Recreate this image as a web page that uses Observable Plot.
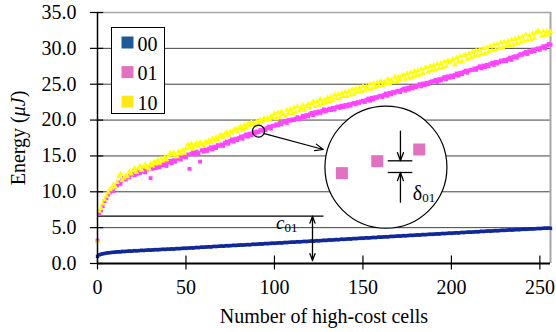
<!DOCTYPE html>
<html><head><meta charset="utf-8">
<script src="https://cdn.jsdelivr.net/npm/d3@7"></script>
<script src="https://cdn.jsdelivr.net/npm/@observablehq/plot@0.6"></script>
<style>body{margin:0;background:#fff} svg text{font-family:'Liberation Serif','Times New Roman',serif}</style>
</head><body><div id="chart"></div>
<script>
// Energy (μJ) per number of high-cost cells (index = number of cells, 0..256)
const s00 = [
1.0,1.2,1.3,1.35,1.4,1.45,1.5,1.5,1.55,1.55,
1.6,1.6,1.65,1.6,1.7,1.65,1.7,1.7,1.75,1.7,
1.75,1.8,1.75,1.8,1.8,1.85,1.8,1.85,1.85,1.9,
1.85,1.9,1.9,1.95,1.9,1.95,1.95,2.0,1.95,2.0,
2.0,2.0,2.05,2.0,2.05,2.1,2.05,2.1,2.1,2.15,
2.1,2.15,2.15,2.2,2.15,2.2,2.25,2.2,2.25,2.3,
2.25,2.3,2.3,2.35,2.3,2.35,2.4,2.35,2.4,2.4,
2.45,2.4,2.45,2.5,2.45,2.5,2.5,2.55,2.5,2.55,
2.55,2.6,2.55,2.6,2.6,2.65,2.6,2.65,2.7,2.65,
2.7,2.7,2.75,2.7,2.75,2.8,2.75,2.8,2.8,2.85,
2.8,2.85,2.85,2.9,2.85,2.9,2.95,2.9,2.95,2.95,
3.0,2.95,3.0,3.05,3.0,3.05,3.05,3.1,3.05,3.1,
3.1,3.15,3.1,3.15,3.2,3.15,3.2,3.2,3.25,3.2,
3.25,3.3,3.25,3.3,3.3,3.35,3.3,3.35,3.4,3.35,
3.4,3.4,3.45,3.4,3.45,3.5,3.45,3.5,3.5,3.55,
3.5,3.55,3.6,3.55,3.6,3.6,3.65,3.6,3.65,3.7,
3.65,3.7,3.7,3.75,3.7,3.75,3.8,3.75,3.8,3.8,
3.85,3.8,3.85,3.9,3.85,3.9,3.9,3.95,3.9,3.95,
3.95,4.0,3.95,4.0,4.05,4.0,4.05,4.05,4.1,4.05,
4.1,4.1,4.15,4.1,4.15,4.2,4.15,4.2,4.2,4.25,
4.2,4.25,4.25,4.3,4.25,4.3,4.35,4.3,4.35,4.35,
4.4,4.35,4.4,4.4,4.45,4.4,4.45,4.5,4.45,4.5,
4.5,4.55,4.5,4.55,4.55,4.6,4.55,4.6,4.6,4.65,
4.6,4.65,4.65,4.7,4.65,4.7,4.7,4.75,4.7,4.75,
4.75,4.8,4.75,4.8,4.8,4.85,4.8,4.85,4.85,4.9,
4.85,4.9,4.9,4.95,4.9,4.95,4.9];
const s01 = [
3.2,6.9,7.4,8.0,8.7,9.1,9.6,9.9,10.3,10.1,
10.7,10.9,11.3,11.1,11.6,11.9,11.7,12.2,12.0,12.4,
12.6,12.3,12.5,12.9,12.6,12.8,13.0,12.7,13.1,13.3,
11.9,13.2,13.5,13.3,13.6,13.4,13.8,13.7,14.0,13.6,
14.1,14.3,14.0,14.4,14.2,14.6,14.8,14.5,14.9,15.1,
14.8,15.2,13.2,15.3,15.5,15.2,15.6,15.4,14.2,15.8,
15.6,15.9,15.7,16.0,16.2,15.9,16.3,16.1,16.5,16.4,
16.6,16.4,16.8,17.0,16.7,17.1,17.3,17.0,17.4,17.2,
17.5,17.7,17.4,17.8,18.0,17.7,18.1,17.9,18.3,18.1,
18.4,18.3,18.6,18.5,18.8,18.6,18.9,19.1,18.8,19.2,
19.2,19.4,19.3,19.6,19.4,19.7,19.9,19.6,20.0,19.9,
20.1,20.0,20.2,20.4,20.1,20.3,20.6,20.4,20.7,20.5,
20.8,21.0,20.7,21.1,20.9,21.2,21.0,21.3,21.5,21.2,
21.4,21.6,21.4,21.7,21.5,21.8,21.9,21.7,22.0,21.8,
22.1,21.9,22.2,22.0,22.3,22.4,22.2,22.5,22.4,22.6,
22.7,22.5,22.8,23.0,22.7,23.1,22.9,23.2,23.1,23.3,
23.4,23.2,23.5,23.7,23.4,23.8,23.6,23.9,23.8,24.0,
24.1,23.9,24.2,24.4,24.1,24.5,24.3,24.6,24.4,24.7,
24.6,24.8,25.0,24.7,25.1,24.9,25.2,25.0,25.3,25.4,
25.4,25.6,25.3,25.7,25.5,25.8,26.0,25.7,26.1,25.9,
26.2,26.0,26.3,26.5,26.2,26.6,26.4,26.7,26.9,26.6,
26.9,27.0,27.0,27.2,27.0,27.3,27.5,27.2,27.6,27.4,
27.7,27.5,27.8,28.0,27.7,28.1,27.9,28.1,28.3,28.2,
28.4,28.2,28.5,28.7,28.4,28.8,28.9,28.7,29.0,29.2,
29.1,29.3,29.5,29.2,29.6,29.5,29.8,29.6,29.9,30.0,
29.8,30.1,30.3,30.0,30.4,30.6,30.5];
const s10 = [
3.0,7.3,7.7,8.3,8.9,9.4,9.9,10.3,10.5,11.0,
10.7,11.3,12.1,12.5,11.6,11.9,12.3,12.1,12.8,12.5,
12.9,13.3,12.7,13.2,13.6,13.0,13.5,13.8,13.4,13.2,
13.9,13.6,14.2,13.9,14.4,14.0,14.6,14.3,14.8,14.5,
15.0,15.4,15.2,15.5,15.1,14.9,15.6,15.3,15.8,15.4,
16.0,16.6,16.2,16.7,16.0,16.5,16.8,16.3,16.9,16.6,
16.4,17.0,16.8,17.2,16.9,17.4,17.1,17.6,17.3,17.8,
17.9,17.6,18.1,18.3,17.9,18.4,18.2,18.6,18.8,18.4,
18.9,19.1,18.7,19.3,19.0,19.5,19.3,19.7,19.4,19.2,
19.8,19.6,20.0,19.7,20.2,20.0,20.3,20.1,20.5,20.3,
20.9,20.2,21.0,20.4,21.2,20.8,20.5,21.4,20.9,21.5,
20.9,21.7,21.1,21.9,21.3,21.6,22.1,21.4,21.9,22.2,
21.7,22.3,22.6,21.9,22.5,22.1,22.9,22.3,22.8,22.4,
23.1,22.6,23.2,22.7,23.5,23.0,23.6,23.0,23.7,23.3,
23.9,23.3,24.0,23.5,24.3,23.6,24.4,23.9,24.5,24.0,
24.7,24.1,24.6,24.3,25.0,24.4,25.1,24.6,25.2,24.7,
25.4,24.8,25.3,25.1,25.7,25.1,25.6,25.3,26.0,25.4,
26.0,25.6,26.2,26.3,25.7,26.5,25.9,26.6,26.0,26.8,
26.2,26.9,26.3,27.1,26.5,27.2,27.3,26.7,27.5,26.9,
27.6,27.0,27.8,27.2,27.9,27.3,28.1,27.5,28.3,28.0,
28.3,28.5,27.7,28.7,28.1,28.9,28.2,29.0,29.1,28.5,
29.3,28.7,29.5,28.9,29.7,29.0,29.8,29.2,30.0,29.3,
30.1,29.5,30.3,29.7,30.5,29.8,30.6,30.0,30.8,30.1,
30.9,30.3,31.0,30.4,31.2,30.5,31.3,30.7,31.5,30.8,
31.6,31.0,31.9,31.1,31.8,31.2,32.1,31.4,32.2,32.5,
32.2,31.7,32.4,31.8,32.4,31.9,32.3];

const seriesNames = ["00", "01", "10"];
const xTicks = [0, 50, 100, 150, 200, 250];
const yTicks = [0, 5, 10, 15, 20, 25, 30, 35];
const xLabel = "Number of high-cost cells";
const yLabel = "Energy (μJ)";

// annotation values (data units)
const c01Level = 6.6;
const zoomSpot = {x: 91, y: 18.45};
const zoomCenter = {x: 163, y: 13.43};
const zoomPoints = [{x: 138.1, y: 12.6}, {x: 158.1, y: 14.27}, {x: 181.8, y: 15.9}];
const deltaLines = [14.32, 12.69];

const dataColors = {"00": "#10289a", "01": "#ff44ff", "10": "#ffff00"};
const legendColors = {"00": "#1b5a97", "01": "#e271c1", "10": "#ffe814"};

const rows = (arr) => arr.map((v, i) => ({x: i, y: v}));
const F = "Liberation Serif, Times New Roman, serif";

const legendMarks = seriesNames.flatMap((name, i) => [
  Plot.dot([name], {frameAnchor: "top-left", dx: 30, dy: 30 + i * 29.6, symbol: "square", r: 6.77, fill: legendColors[name], stroke: "none"}),
  Plot.text([name], {frameAnchor: "top-left", dx: 40, dy: 31.6 + i * 29.6, text: d => d, textAnchor: "start", lineAnchor: "middle", fontSize: 20, fontFamily: F, fill: "black"})
]);

const svg = Plot.plot({
  width: 556, height: 332,
  marginLeft: 97, marginRight: 6, marginTop: 12, marginBottom: 69,
  x: {domain: [0, 256]},
  y: {domain: [0, 35]},
  style: {fontFamily: F, fontSize: "20px", color: "black", background: "white"},
  marks: [
    Plot.ruleY(yTicks.filter(d => d > 0 && d < 35), {stroke: "#404040", strokeWidth: 1}),
    Plot.ruleY([35], {stroke: "#a6a6a6", strokeWidth: 1.5}),
    Plot.ruleX([256], {stroke: "#a6a6a6", strokeWidth: 2}),
    Plot.ruleY([c01Level], {x1: 0, x2: 128, stroke: "black", strokeWidth: 1.2}),
    Plot.dot(rows(s00), {x: "x", y: "y", symbol: "square", r: 1.9, fill: dataColors["00"], stroke: "none"}),
    Plot.dot(rows(s01), {x: "x", y: "y", symbol: "square", r: 2.2, fill: dataColors["01"], stroke: "none"}),
    Plot.dot(rows(s10), {x: "x", y: "y", symbol: "triangle", r: 2.1, fill: dataColors["10"], stroke: "none"}),
    Plot.ruleX([0], {stroke: "black", strokeWidth: 1.5}),
    Plot.ruleY([0], {stroke: "black", strokeWidth: 1.8}),
    Plot.ruleY(yTicks, {x1: -4, x2: 3.5, stroke: "black", strokeWidth: 1.2}),
    Plot.ruleX(xTicks, {y1: -0.9, y2: 1.05, stroke: "black", strokeWidth: 1.2}),
    Plot.axisY({ticks: yTicks, tickSize: 0, tickPadding: 21, tickFormat: d3.format(".1f"), fontSize: 20, fontFamily: F, label: null}),
    Plot.axisX({ticks: xTicks, tickSize: 0, tickPadding: 16, tickFormat: d3.format("d"), fontSize: 20, fontFamily: F, label: null}),
    Plot.text([xLabel], {frameAnchor: "bottom", lineAnchor: "middle", textAnchor: "middle", dy: 53, fontSize: 20, fontFamily: F}),
    Plot.text([yLabel], {frameAnchor: "left", textAnchor: "middle", lineAnchor: "middle", dx: -79.4, rotate: -90, fontSize: 20, fontFamily: F}),
    // legend box
    Plot.frame({insetLeft: 14, insetTop: 15, insetRight: 386, insetBottom: 150, stroke: "black", fill: "white", strokeWidth: 1}),
    ...legendMarks,
    // magnifier annotation
    Plot.dot([zoomSpot], {x: "x", y: "y", r: 6, stroke: "black", fill: "none", strokeWidth: 1.2}),
    Plot.arrow([{x1: 94.3, y1: 18.1, x2: 127.6, y2: 15.9}], {x1: "x1", y1: "y1", x2: "x2", y2: "y2", stroke: "black", strokeWidth: 1.2, headLength: 11, headAngle: 45}),
    Plot.dot([zoomCenter], {x: "x", y: "y", r: 61, stroke: "black", fill: "white", strokeWidth: 1.2}),
    Plot.dot(zoomPoints, {x: "x", y: "y", symbol: "square", r: 6.77, fill: legendColors["01"], stroke: "none"}),
    Plot.ruleY(deltaLines, {x1: 164.3, x2: 178.2, stroke: "black", strokeWidth: 1.3}),
    Plot.arrow([{x1: 171.2, y1: 18.45, x2: 171.2, y2: 14.32}, {x1: 171.2, y1: 8.55, x2: 171.2, y2: 12.69}],
      {x1: "x1", y1: "y1", x2: "x2", y2: "y2", stroke: "black", strokeWidth: 1.3, headLength: 10, headAngle: 40}),
    Plot.text(["δ01"], {x: 178.2, y: 9.68, textAnchor: "start", lineAnchor: "middle", fontSize: 20, fontFamily: F}),
    // c01 annotation
    Plot.arrow([{x1: 121.5, y1: 3.5, x2: 121.5, y2: c01Level}, {x1: 121.5, y1: 3.5, x2: 121.5, y2: 0.4}],
      {x1: "x1", y1: "y1", x2: "x2", y2: "y2", stroke: "black", strokeWidth: 1.3, headLength: 11, headAngle: 40}),
    Plot.text(["c01"], {x: 100.9, y: 5.69, textAnchor: "start", lineAnchor: "middle", fontSize: 19, fontFamily: F})
  ]
});

function rich(plain, parts) {
  d3.select(svg).selectAll("text").filter(function () { return this.textContent === plain; }).each(function () {
    const t = d3.select(this);
    t.text("");
    for (const p of parts) {
      const s = t.append("tspan").text(p.t);
      if (p.italic) s.attr("font-style", "italic");
      if (p.size) s.attr("font-size", p.size);
      if (p.dy) s.attr("dy", p.dy);
    }
  });
}
rich(yLabel, [{t: "Energy ("}, {t: "μJ", italic: true}, {t: ")"}]);
rich("c01", [{t: "c", italic: true}, {t: "01", size: 13, dy: 3.5}]);
rich("δ01", [{t: "δ"}, {t: "01", size: 13, dy: 2}]);

document.getElementById("chart").appendChild(svg);
</script>
</body></html>
